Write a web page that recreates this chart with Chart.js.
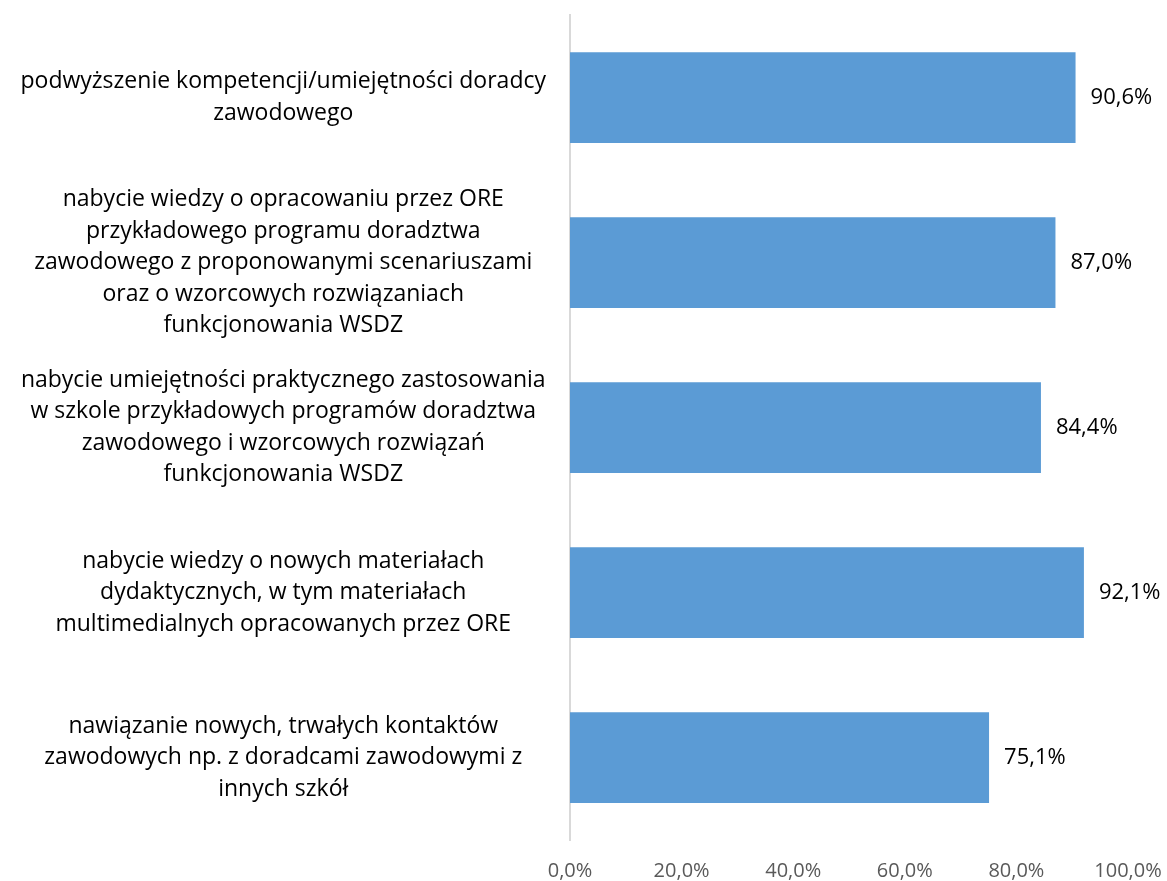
<!DOCTYPE html>
<html><head><meta charset="utf-8">
<script src="https://cdn.jsdelivr.net/npm/chart.js@4"></script>
<style>html,body{margin:0;padding:0;background:#fff}#wrap{width:1167px;height:881px;position:relative}</style>
</head><body><div id="wrap"><canvas id="c" width="1167" height="881"></canvas></div>
<script>
const categories = [
  ["podwyższenie kompetencji/umiejętności doradcy", "zawodowego"],
  ["nabycie wiedzy o opracowaniu przez ORE", "przykładowego programu doradztwa", "zawodowego z proponowanymi scenariuszami", "oraz o wzorcowych rozwiązaniach", "funkcjonowania WSDZ"],
  ["nabycie umiejętności praktycznego zastosowania", "w szkole przykładowych programów doradztwa", "zawodowego i wzorcowych rozwiązań", "funkcjonowania WSDZ"],
  ["nabycie wiedzy o nowych materiałach", "dydaktycznych, w tym materiałach", "multimedialnych opracowanych przez ORE"],
  ["nawiązanie nowych, trwałych kontaktów", "zawodowych np. z doradcami zawodowymi z", "innych szkół"]
];
const values = [0.906, 0.870, 0.844, 0.921, 0.751];
const tickValues = [0, 0.2, 0.4, 0.6, 0.8, 1.0];
const FONT = "'Open Sans', sans-serif";
const fmt = v => (v*100).toFixed(1).replace('.', ',') + '%';

const labelPlugin = {
  id: 'barLabels',
  afterDatasetsDraw(chart) {
    const ctx = chart.ctx;
    const meta = chart.getDatasetMeta(0);
    ctx.save();
    ctx.font = "22px " + FONT;
    ctx.fillStyle = '#000';
    ctx.textAlign = 'left';
    ctx.textBaseline = 'middle';
    meta.data.forEach((bar, i) => {
      ctx.fillText(fmt(values[i]), bar.x + 15, bar.y);
    });
    ctx.restore();
  }
};

new Chart(document.getElementById('c'), {
  type: 'bar',
  data: {
    labels: categories,
    datasets: [{ data: values, backgroundColor: '#5B9BD5', barPercentage: 0.55, categoryPercentage: 1.0 }]
  },
  options: {
    indexAxis: 'y',
    responsive: false,
    animation: false,
    layout: { padding: { top: 15, right: 39, left: 0, bottom: 0 } },
    plugins: { legend: { display: false }, tooltip: { enabled: false } },
    scales: {
      x: {
        min: 0, max: 1,
        afterBuildTicks(scale) { scale.ticks = tickValues.map(v => ({ value: v })); },
        afterFit(scale) { scale.height = 41; scale.paddingLeft = 0; scale.paddingRight = 0; },
        grid: { display: false, drawTicks: false },
        border: { display: false },
        ticks: { padding: 19, color: '#595959', font: { family: FONT, size: 20 }, callback: v => fmt(v) }
      },
      y: {
        afterFit(scale) { scale.width = 570; scale.paddingTop = 0; scale.paddingBottom = 0; },
        grid: { display: false, drawTicks: false },
        border: { display: true, color: '#d9d9d9', width: 2 },
        ticks: { padding: 24, crossAlign: 'center', color: '#000', font: { family: FONT, size: 23, lineHeight: 1.37 } }
      }
    }
  },
  plugins: [labelPlugin]
});
</script></body></html>
